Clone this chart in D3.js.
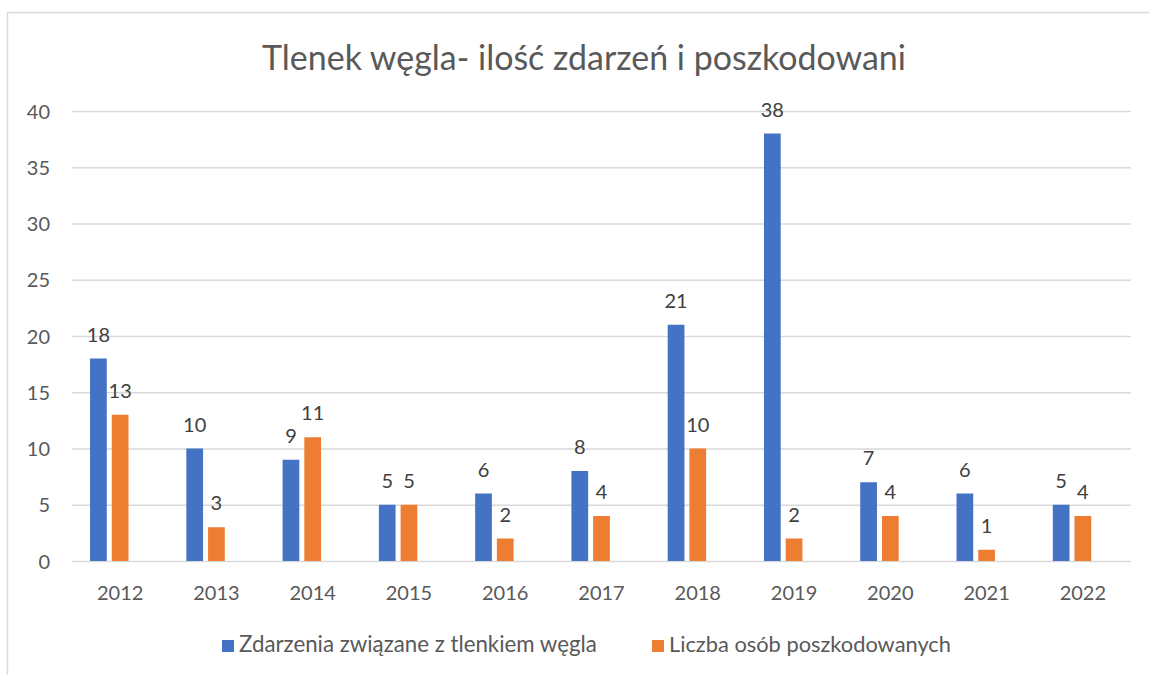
<!DOCTYPE html>
<html>
<head>
<meta charset="utf-8">
<script src="https://cdn.jsdelivr.net/npm/d3@7"></script>
<style>
  body { margin: 0; background: #fff; }
  text { font-family: Lato, "Open Sans", sans-serif; }
</style>
</head>
<body>
<div id="chart"></div>
<script>
var years = ["2012","2013","2014","2015","2016","2017","2018","2019","2020","2021","2022"];
var zdarzenia = [18, 10, 9, 5, 6, 8, 21, 38, 7, 6, 5];
var poszkodowani = [13, 3, 11, 5, 2, 4, 10, 2, 4, 1, 4];
var seriesNames = ["Zdarzenia związane z tlenkiem węgla", "Liczba osób poszkodowanych"];
var yTicks = [0, 5, 10, 15, 20, 25, 30, 35, 40];
var title = "Tlenek węgla- ilość zdarzeń i poszkodowani";

var colors = ["#4472C4", "#ED7D31"];
var W = 1149, H = 675;
var margin = { top: 111, left: 72, right: 18, bottom: 114 };
var width = W - margin.left - margin.right,
    height = H - margin.top - margin.bottom;

var svg = d3.select("#chart").append("svg")
    .attr("width", W).attr("height", H);

// outer frame (only top and left edges are visible in the picture)
svg.append("rect")
    .attr("x", 7.5).attr("y", 12.5)
    .attr("width", W + 10).attr("height", H + 10)
    .attr("fill", "none").attr("stroke", "#D9D9D9").attr("stroke-width", 1.5);

var g = svg.append("g")
    .attr("transform", "translate(" + margin.left + "," + margin.top + ")");

var y = d3.scaleLinear().domain([0, 40]).range([height, 0]);

var x0 = d3.scaleBand().domain(years).range([0, width])
    .paddingInner(0.375).paddingOuter(0.1875);

// three slots per year, the third one is left empty like in the original
var x1 = d3.scaleBand().domain([0, 1, 2]).range([0, x0.bandwidth()])
    .paddingInner(0.23);

// gridlines + y labels
var yAxis = g.append("g")
    .call(d3.axisLeft(y).tickValues(yTicks).tickSize(-width).tickPadding(22));
yAxis.select(".domain").remove();
yAxis.selectAll(".tick line").attr("stroke", "#D9D9D9").attr("stroke-width", 1.5);
yAxis.selectAll(".tick text").attr("fill", "#595959").style("font-size", "20px")
    .attr("dy", "0.36em");

// x labels
var xAxis = g.append("g")
    .attr("transform", "translate(0," + height + ")")
    .call(d3.axisBottom(x0).tickSize(0).tickPadding(25));
xAxis.select(".domain").remove();
xAxis.selectAll(".tick text").attr("fill", "#595959").style("font-size", "20px");

var series = [zdarzenia, poszkodowani];

series.forEach(function(vals, si) {
    var grp = g.append("g");
    grp.selectAll("rect")
        .data(vals)
        .enter().append("rect")
        .attr("x", function(d, i) { return x0(years[i]) + x1(si); })
        .attr("y", function(d) { return y(d); })
        .attr("width", x1.bandwidth())
        .attr("height", function(d) { return y(0) - y(d); })
        .attr("fill", colors[si]);

    grp.selectAll("text")
        .data(vals)
        .enter().append("text")
        .attr("x", function(d, i) { return x0(years[i]) + x1(si) + x1.bandwidth() / 2; })
        .attr("y", function(d) { return y(d) - 17; })
        .attr("text-anchor", "middle")
        .attr("fill", "#404040")
        .style("font-size", "20px")
        .text(function(d) { return d; });
});

// title
var t = svg.append("text")
    .attr("x", 584).attr("y", 70)
    .attr("text-anchor", "middle")
    .attr("fill", "#595959")
    .style("font-size", "30px")
    .text(title);
var tw = t.node().getComputedTextLength();
t.style("font-size", (30 * 644 / tw) + "px");

// legend
var legendX = [222, 652];
var legendW = [358, 282];
seriesNames.forEach(function(name, i) {
    svg.append("rect")
        .attr("x", legendX[i]).attr("y", 640)
        .attr("width", 12).attr("height", 12)
        .attr("fill", colors[i]);
    var lt = svg.append("text")
        .attr("x", legendX[i] + 17).attr("y", 652)
        .attr("fill", "#595959")
        .style("font-size", "19px")
        .text(name);
    var w = lt.node().getComputedTextLength();
    lt.style("font-size", (19 * legendW[i] / w) + "px");
});
</script>
</body>
</html>
